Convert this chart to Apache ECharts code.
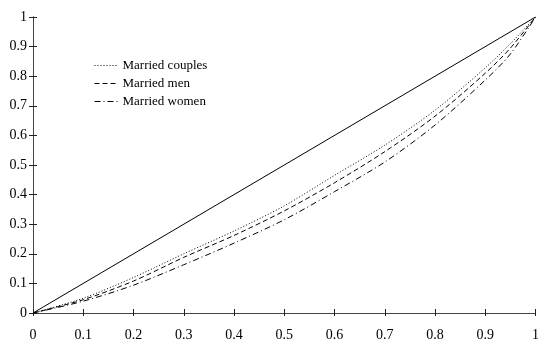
<!DOCTYPE html>
<html>
<head>
<meta charset="utf-8">
<script src="https://cdn.jsdelivr.net/npm/echarts@6/dist/echarts.min.js"></script>
<style>html,body{margin:0;padding:0;background:#fff}#c{width:542px;height:342px}</style>
</head>
<body>
<div id="c"></div>
<script>
var xValues = [0, 0.1, 0.2, 0.3, 0.4, 0.5, 0.6, 0.7, 0.8, 0.9, 0.95, 1];
var marriedCouples = [0, 0.05, 0.12, 0.20, 0.277, 0.362, 0.465, 0.567, 0.685, 0.828, 0.91, 1];
var marriedMen     = [0, 0.045, 0.108, 0.188, 0.262, 0.345, 0.44, 0.545, 0.665, 0.81, 0.895, 1];
var marriedWomen   = [0, 0.04, 0.094, 0.163, 0.236, 0.315, 0.41, 0.51, 0.635, 0.787, 0.875, 1];
var equalityLine = [[0, 0], [1, 1]];
var seriesNames = ['Married couples', 'Married men', 'Married women'];
var tickLabels = ['0', '0.1', '0.2', '0.3', '0.4', '0.5', '0.6', '0.7', '0.8', '0.9', '1'];

function pairs(ys) { return xValues.map(function (x, i) { return [x, ys[i]]; }); }
function fmt(v) { return tickLabels[Math.round(v * 10)]; }

var font = 'Liberation Serif';
var axisCommon = {
  type: 'value', min: 0, max: 1, interval: 0.1,
  splitLine: { show: false },
  axisLine: { show: true, lineStyle: { color: '#444', width: 1 } }
};
function mkAxis(extra) { return Object.assign({}, axisCommon, extra); }

var chart = echarts.init(document.getElementById('c'), null, { renderer: 'canvas' });
chart.setOption({
  animation: false,
  backgroundColor: '#fff',
  grid: { left: 33, right: 5, top: 17, bottom: 28, containLabel: false },
  xAxis: [
    mkAxis({ position: 'bottom', axisTick: { show: true, inside: false, length: 3, lineStyle: { color: '#222' } },
      axisLabel: { color: '#000', fontFamily: font, fontSize: 14, margin: 15, formatter: fmt } }),
    mkAxis({ position: 'bottom', axisTick: { show: true, inside: true, length: 4, lineStyle: { color: '#222' } },
      axisLabel: { show: false } })
  ],
  yAxis: [
    mkAxis({ position: 'left', axisTick: { show: true, inside: false, length: 4, lineStyle: { color: '#222' } },
      axisLabel: { color: '#000', fontFamily: font, fontSize: 14, margin: 6, formatter: fmt } }),
    mkAxis({ position: 'left', axisTick: { show: true, inside: true, length: 4, lineStyle: { color: '#222' } },
      axisLabel: { show: false } })
  ],
  legend: {
    orient: 'vertical', left: 89, top: 54, itemWidth: 24, itemHeight: 8, itemGap: 5,
    data: seriesNames,
    itemStyle: { opacity: 0 },
    lineStyle: { width: 1 },
    textStyle: { color: '#000', fontFamily: font, fontSize: 13, padding: [0, 0, 0, -1] }
  },
  series: [
    { type: 'line', name: 'Equality', data: equalityLine, symbol: 'none', silent: true,
      lineStyle: { color: '#000', width: 1 } },
    { type: 'line', name: seriesNames[0], data: pairs(marriedCouples), symbol: 'none', smooth: 0.3,
      itemStyle: { color: '#000' }, lineStyle: { color: '#000', width: 1, type: [1, 2] } },
    { type: 'line', name: seriesNames[1], data: pairs(marriedMen), symbol: 'none', smooth: 0.3,
      itemStyle: { color: '#000' }, lineStyle: { color: '#000', width: 1, type: [5, 3] } },
    { type: 'line', name: seriesNames[2], data: pairs(marriedWomen), symbol: 'none', smooth: 0.3,
      itemStyle: { color: '#000' }, lineStyle: { color: '#000', width: 1, type: [6, 3, 1, 3] } }
  ]
});
</script>
</body>
</html>
